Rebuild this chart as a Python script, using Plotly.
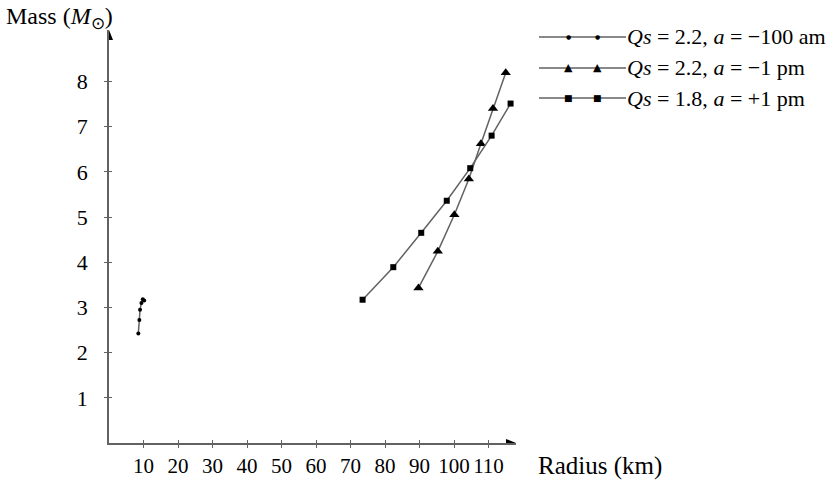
import plotly.graph_objects as go

# ---- data ----
r_s1 = [8.5, 8.8, 9.0, 9.4, 9.8, 10.2]
m_s1 = [2.42, 2.72, 2.95, 3.10, 3.18, 3.15]

r_s2 = [89.7, 95.3, 100.1, 104.3, 107.8, 111.3, 115.0]
m_s2 = [3.43, 4.24, 5.05, 5.84, 6.62, 7.40, 8.19]

r_s3 = [73.5, 82.4, 90.5, 97.9, 104.7, 110.9, 116.4]
m_s3 = [3.17, 3.89, 4.65, 5.36, 6.08, 6.80, 7.51]

names = ["<i>Qs</i> = 2.2, <i>a</i> = \u2212100 am",
         "<i>Qs</i> = 2.2, <i>a</i> = \u22121 pm",
         "<i>Qs</i> = 1.8, <i>a</i> = +1 pm"]
symbols = ["circle", "triangle-up", "square"]
msizes = [4, 9, 6]

x_ticks = [10, 20, 30, 40, 50, 60, 70, 80, 90, 100, 110]
y_ticks = [1, 2, 3, 4, 5, 6, 7, 8]

# ---- layout geometry ----
W, H = 839, 481
ML, MR, MT, MB = 109, 323, 30, 38
PW, PH = W - ML - MR, H - MT - MB
XR = [0, PW / 3.45]
YR = [0, PH / 45.2]

def px(x):
    return (x - ML) / PW

def py(y):
    return (H - MB - y) / PH

FONT = "Liberation Serif"
LC = "#626262"

fig = go.Figure()
series = [(r_s1, m_s1), (r_s2, m_s2), (r_s3, m_s3)]
for (xs, ys), nm, sym, ms in zip(series, names, symbols, msizes):
    fig.add_trace(go.Scatter(x=xs, y=ys, name=nm, mode="lines+markers",
                             line=dict(color=LC, width=1.5),
                             marker=dict(symbol=sym, size=ms, color="black"),
                             showlegend=False, cliponaxis=False))

# dummy trace for overlay axes (inside tick halves)
fig.add_trace(go.Scatter(x=[None], y=[None], xaxis="x2", yaxis="y2",
                         showlegend=False, hoverinfo="skip"))

axis_common = dict(showgrid=False, zeroline=False, ticks="outside", ticklen=3,
                   tickcolor=LC, tickwidth=1.2, automargin=False)
fig.update_layout(
    width=W, height=H, autosize=False,
    margin=dict(l=ML, r=MR, t=MT, b=MB, autoexpand=False),
    paper_bgcolor="white", plot_bgcolor="white",
    font=dict(family=FONT, size=22, color="black"),
    xaxis=dict(range=XR, tickvals=x_ticks, showline=True, linecolor=LC, linewidth=1.5,
               ticklabelstandoff=0, tickfont=dict(size=21), **axis_common),
    yaxis=dict(range=YR, tickvals=y_ticks, showline=True, linecolor=LC, linewidth=1.5,
               ticklabelstandoff=12, tickfont=dict(size=22), **axis_common),
    xaxis2=dict(range=XR, tickvals=x_ticks, overlaying="x", showticklabels=False,
                showgrid=False, zeroline=False, ticks="inside", ticklen=3,
                tickcolor=LC, tickwidth=1.2, showline=False, automargin=False),
    yaxis2=dict(range=YR, tickvals=y_ticks, overlaying="y", showticklabels=False,
                showgrid=False, zeroline=False, ticks="inside", ticklen=3,
                tickcolor=LC, tickwidth=1.2, showline=False, automargin=False),
    showlegend=False,
)

# axis arrowheads (pixel-sized triangles anchored at axis ends)
fig.add_shape(type="path", xref="x", yref="y", xsizemode="pixel", ysizemode="pixel",
              xanchor=XR[1], yanchor=0, path="M0,0 L-10,4 L-10,-4 Z",
              fillcolor="black", line=dict(width=0))
fig.add_shape(type="path", xref="x", yref="y", xsizemode="pixel", ysizemode="pixel",
              xanchor=0, yanchor=YR[1], path="M0,0 L-4,-10 L4,-10 Z",
              fillcolor="black", line=dict(width=0))

# axis titles
fig.add_annotation(x=px(4), y=py(18), xref="paper", yref="paper", xanchor="left",
                   yanchor="middle", showarrow=False,
                   text="Mass (<i>M</i><sub>\u2299</sub>)", font=dict(size=24))
fig.add_annotation(x=px(536), y=py(466), xref="paper", yref="paper", xanchor="left",
                   yanchor="middle", showarrow=False,
                   text="Radius (km)", font=dict(size=25))

# custom legend
rows = [37, 68, 98]
glyphs = {"circle": "\u25cf", "triangle-up": "\u25b2", "square": "\u25a0"}
gsizes = {"circle": 6, "triangle-up": 11, "square": 9}
for nm, sym, ry in zip(names, symbols, rows):
    fig.add_shape(type="line", xref="paper", yref="paper",
                  x0=px(539), x1=px(626), y0=py(ry), y1=py(ry),
                  line=dict(color=LC, width=1.5))
    for gx in (568, 597):
        fig.add_annotation(x=px(gx), y=py(ry), xref="paper", yref="paper",
                           showarrow=False, text=glyphs[sym], xanchor="center",
                           yanchor="middle", font=dict(size=gsizes[sym], color="black",
                                                       family="DejaVu Sans"))
    fig.add_annotation(x=px(625), y=py(ry), xref="paper", yref="paper",
                       xanchor="left", yanchor="middle", showarrow=False,
                       text=nm, font=dict(size=22))

fig.write_html("out.html", config={"displayModeBar": False},
               post_script="document.body.style.margin='0';"
                           "document.body.style.overflow='hidden';")
